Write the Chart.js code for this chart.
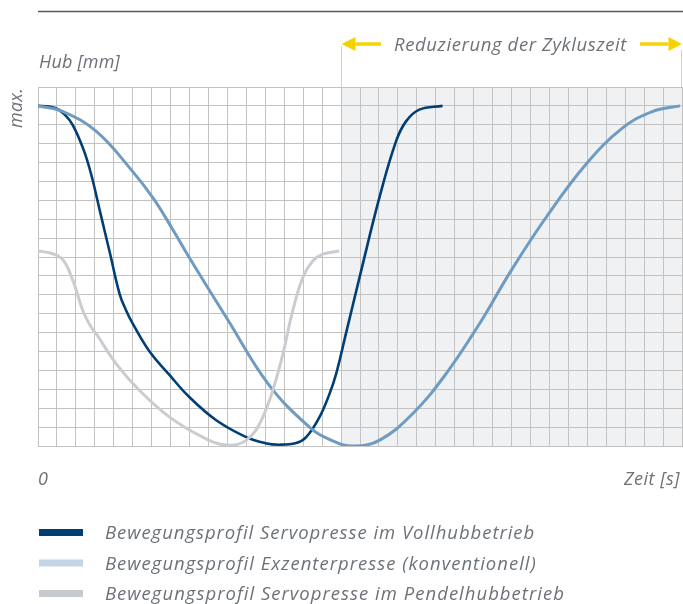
<!DOCTYPE html>
<html>
<head>
<meta charset="utf-8">
<script src="https://cdn.jsdelivr.net/npm/chart.js@4.4.1/dist/chart.umd.min.js"></script>
<style>
  html, body { margin: 0; padding: 0; background: #fff; }
  canvas { display: block; }
</style>
</head>
<body>
<canvas id="chart" width="683" height="604"></canvas>
<script>
// grid is in abstract cell units (no real numbers on the axes)
const xMax = 34;
const yMax = 19;
const shadeFrom = 16;

// Servopresse im Vollhubbetrieb
const vollX = [0, 0.6, 1.0, 1.4, 1.83, 2.4, 2.81, 3.3, 3.8, 4.31, 4.66, 5.01, 5.89, 6.95, 8.0, 9.41, 10.99, 12.0, 12.75, 13.63, 14.16, 14.86, 15.39, 15.74, 16.27, 17.06, 18.02, 18.9, 19.43, 20.13, 21.36];
const vollY = [18, 17.97, 17.85, 17.55, 17.0, 15.7, 14.37, 12.3, 10.2, 8.04, 7.16, 6.46, 5.0, 3.75, 2.58, 1.36, 0.47, 0.15, 0.07, 0.16, 0.47, 1.53, 2.76, 3.82, 6.0, 9.27, 13.13, 16.12, 17.18, 17.8, 18];

// Exzenterpresse (konventionell)
const exzX = [0, 1.32, 3.08, 4.84, 6.07, 7.12, 8.0, 10.05, 12.15, 14.33, 15.5, 16.61, 18.02, 19.78, 21.54, 23.3, 24.97, 26.81, 28.92, 30.85, 32.43, 33.9];
const exzY = [18, 17.7, 16.65, 14.72, 13.13, 11.45, 9.95, 6.63, 3.29, 1.0, 0.3, 0, 0.3, 1.71, 3.82, 6.46, 9.27, 12.08, 14.9, 16.82, 17.7, 18];

// Servopresse im Pendelhubbetrieb
const pendelX = [0, 0.7, 1.32, 1.85, 2.37, 2.81, 3.08, 4.13, 5.36, 6.95, 8.7, 9.94, 10.99, 11.87, 12.75, 13.45, 13.98, 14.5, 15.03, 15.9];
const pendelY = [10.32, 10.2, 9.85, 8.74, 7.16, 6.28, 5.93, 4.35, 2.94, 1.53, 0.47, 0.05, 0.3, 1.53, 4.17, 7.16, 8.91, 9.79, 10.15, 10.32];

const legendLabels = [
  "Bewegungsprofil Servopresse im Vollhubbetrieb",
  "Bewegungsprofil Exzenterpresse (konventionell)",
  "Bewegungsprofil Servopresse im Pendelhubbetrieb",
];
const legendWidths = [430, 432, 460];
const lineColors = ["#003e74", "#6f9bc1", "#c9cdd1"];
const legendColors = ["#003e74", "#c3d4e6", "#c6cacf"];

const textColor = "#6c7278";
const fontFamily = '"Open Sans", "DejaVu Sans", sans-serif';

function points(xs, ys) {
  return xs.map((x, i) => ({ x, y: ys[i] }));
}

// the original uses a wide DIN face; spread letters to keep the same run length
function fitText(ctx, text, x, y, width, align) {
  ctx.letterSpacing = "0px";
  const natural = ctx.measureText(text).width;
  const spacing = (width - natural) / text.length;
  ctx.letterSpacing = spacing.toFixed(2) + "px";
  ctx.textAlign = "left";
  ctx.fillText(text, align === "right" ? x - width : x, y);
  ctx.letterSpacing = "0px";
}

function arrow(ctx, tipX, baseX, tailX, y) {
  ctx.fillStyle = "#f6d300";
  ctx.beginPath();
  ctx.moveTo(tipX, y);
  ctx.lineTo(baseX, y - 7);
  ctx.lineTo(baseX, y + 7);
  ctx.closePath();
  ctx.fill();
  ctx.fillRect(Math.min(baseX, tailX), y - 1.7, Math.abs(tailX - baseX), 3.4);
}

const decorations = {
  id: "decorations",
  beforeDraw(chart) {
    const { ctx, chartArea } = chart;
    const x = chart.scales.x;
    ctx.save();
    ctx.fillStyle = "#eff1f3";
    const left = x.getPixelForValue(shadeFrom);
    ctx.fillRect(left, chartArea.top, chartArea.right - left, chartArea.bottom - chartArea.top);
    ctx.restore();
  },
  afterDraw(chart) {
    const { ctx, chartArea } = chart;
    const x = chart.scales.x;
    const shadeX = Math.round(x.getPixelForValue(shadeFrom)) + 0.5;
    const rightX = Math.round(x.getPixelForValue(xMax)) - 0.5;
    ctx.save();

    // rule at the very top
    ctx.strokeStyle = "#555a5e";
    ctx.lineWidth = 1.6;
    ctx.beginPath();
    ctx.moveTo(chartArea.left, 11.5);
    ctx.lineTo(683, 11.5);
    ctx.stroke();

    // brackets of the shaded span
    ctx.strokeStyle = "#cfd1d3";
    ctx.lineWidth = 1;
    ctx.beginPath();
    ctx.moveTo(shadeX, 46);
    ctx.lineTo(shadeX, chartArea.top);
    ctx.moveTo(rightX, 50);
    ctx.lineTo(rightX, chartArea.top);
    ctx.stroke();

    arrow(ctx, shadeX, shadeX + 14, 381, 44);
    arrow(ctx, rightX + 0.5, rightX - 13, 640, 44);

    ctx.fillStyle = textColor;
    ctx.textBaseline = "alphabetic";
    ctx.font = "italic 18.5px " + fontFamily;
    fitText(ctx, "Reduzierung der Zykluszeit", 394, 51, 233);
    ctx.font = "italic 18px " + fontFamily;
    fitText(ctx, "Hub [mm]", 39, 68, 81);
    ctx.textAlign = "left";
    ctx.fillText("0", 38, 485);
    fitText(ctx, "Zeit [s]", 680, 485, 56, "right");

    ctx.save();
    ctx.translate(22, 128);
    ctx.rotate(-Math.PI / 2);
    fitText(ctx, "max.", 0, 0, 40);
    ctx.restore();

    // legend
    ctx.font = "italic 18.5px " + fontFamily;
    legendLabels.forEach((label, i) => {
      const cy = 532.5 + i * 30.5;
      ctx.fillStyle = legendColors[i];
      ctx.fillRect(39, cy - 3.5, 44, 7);
      ctx.fillStyle = textColor;
      fitText(ctx, label, 105, cy + 6.5, legendWidths[i]);
    });
    ctx.restore();
  },
};

const lineStyle = (i, w) => ({
  borderColor: lineColors[i],
  borderWidth: w,
  pointRadius: 0,
  fill: false,
  tension: 0.4,
});

new Chart(document.getElementById("chart"), {
  type: "line",
  data: {
    datasets: [
      { label: legendLabels[2], data: points(pendelX, pendelY), ...lineStyle(2, 3) },
      { label: legendLabels[1], data: points(exzX, exzY), ...lineStyle(1, 3) },
      { label: legendLabels[0], data: points(vollX, vollY), ...lineStyle(0, 2.6) },
    ],
  },
  options: {
    responsive: false,
    animation: false,
    devicePixelRatio: 1,
    layout: { padding: { left: 38, top: 87, right: 1, bottom: 158 } },
    plugins: { legend: { display: false }, tooltip: { enabled: false } },
    scales: {
      x: {
        type: "linear",
        min: 0,
        max: xMax,
        ticks: { display: false, stepSize: 1 },
        grid: { color: "#c2c2c2", lineWidth: 1, drawTicks: false },
        border: { color: "#c2c2c2" },
      },
      y: {
        type: "linear",
        min: 0,
        max: yMax,
        ticks: { display: false, stepSize: 1 },
        grid: { color: "#c2c2c2", lineWidth: 1, drawTicks: false },
        border: { color: "#c2c2c2" },
      },
    },
  },
  plugins: [decorations],
});
</script>
</body>
</html>
